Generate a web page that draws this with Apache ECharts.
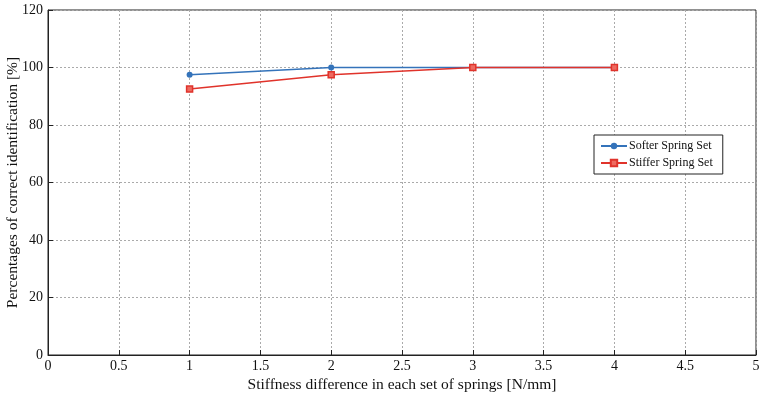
<!DOCTYPE html>
<html>
<head>
<meta charset="utf-8">
<script src="https://cdn.jsdelivr.net/npm/echarts@6/dist/echarts.min.js"></script>
<style>
	html, body { margin: 0; padding: 0; background: #fff; }
	#chart { width: 759px; height: 397px; }
</style>
</head>
<body>
<div id="chart"></div>
<script>
	var stiffnessDiff = [1, 2, 3, 4];
	var softerSet = [97.5, 100, 100, 100];
	var stifferSet = [92.5, 97.5, 100, 100];

	var serif = '"Liberation Serif", "DejaVu Serif", serif';

	function pairs(xs, ys){
		var out = [];
		for(var i = 0; i < xs.length; i++)
			out.push([xs[i], ys[i]]);
		return out;
	}

	var chart = echarts.init(document.getElementById('chart'));
	chart.setOption({
		animation: false,
		textStyle: { fontFamily: serif },
		grid: {
			left: 48,
			right: 3,
			top: 10,
			bottom: 42,
			containLabel: false,
			outerBoundsMode: 'none',
			show: true,
			borderColor: '#222',
			borderWidth: 1,
			backgroundColor: 'transparent'
		},
		legend: {
			orient: 'vertical',
			left: 594,
			top: 135,
			backgroundColor: '#fff',
			borderColor: '#222',
			borderWidth: 1,
			padding: [5, 10, 5, 6],
			itemGap: 5,
			itemWidth: 26,
			itemHeight: 8,
			textStyle: { fontFamily: serif, fontSize: 12, color: '#111', padding: [0, 0, 0, -3] },
			data: ['Softer Spring Set', 'Stiffer Spring Set']
		},
		xAxis: {
			type: 'value',
			min: 0,
			max: 5,
			interval: 0.5,
			name: 'Stiffness difference in each set of springs [N/mm]',
			nameLocation: 'middle',
			nameGap: 22,
			nameMoveOverlap: false,
			nameTextStyle: { fontFamily: serif, fontSize: 15.5, color: '#111' },
			axisLine: { show: true, onZero: false, lineStyle: { color: '#222' } },
			axisTick: { show: true, inside: true, length: 5, lineStyle: { color: '#222' } },
			axisLabel: { fontFamily: serif, fontSize: 14, color: '#111', margin: 4 },
			splitLine: { show: true, lineStyle: { type: [2, 2], color: '#aaa' } }
		},
		yAxis: {
			type: 'value',
			min: 0,
			max: 120,
			interval: 20,
			name: 'Percentages of correct identification [%]',
			nameLocation: 'middle',
			nameGap: 27,
			nameMoveOverlap: false,
			nameTextStyle: { fontFamily: serif, fontSize: 15.5, color: '#111' },
			axisLine: { show: true, lineStyle: { color: '#222' } },
			axisTick: { show: true, inside: true, length: 5, lineStyle: { color: '#222' } },
			axisLabel: { fontFamily: serif, fontSize: 14, color: '#111', margin: 5 },
			splitLine: { show: true, lineStyle: { type: [2, 2], color: '#aaa' } }
		},
		series: [
			{
				name: 'Softer Spring Set',
				type: 'line',
				data: pairs(stiffnessDiff, softerSet),
				symbol: 'circle',
				symbolSize: 6,
				color: '#3473ba',
				lineStyle: { width: 1.5, color: '#3473ba' },
				itemStyle: { color: '#3473ba' }
			},
			{
				name: 'Stiffer Spring Set',
				type: 'line',
				data: pairs(stiffnessDiff, stifferSet),
				symbol: 'rect',
				symbolSize: 6,
				color: '#e0332b',
				lineStyle: { width: 1.5, color: '#e0332b' },
				itemStyle: { color: '#ee6a60', borderColor: '#e0332b', borderWidth: 1.5 }
			}
		]
	});
</script>
</body>
</html>
